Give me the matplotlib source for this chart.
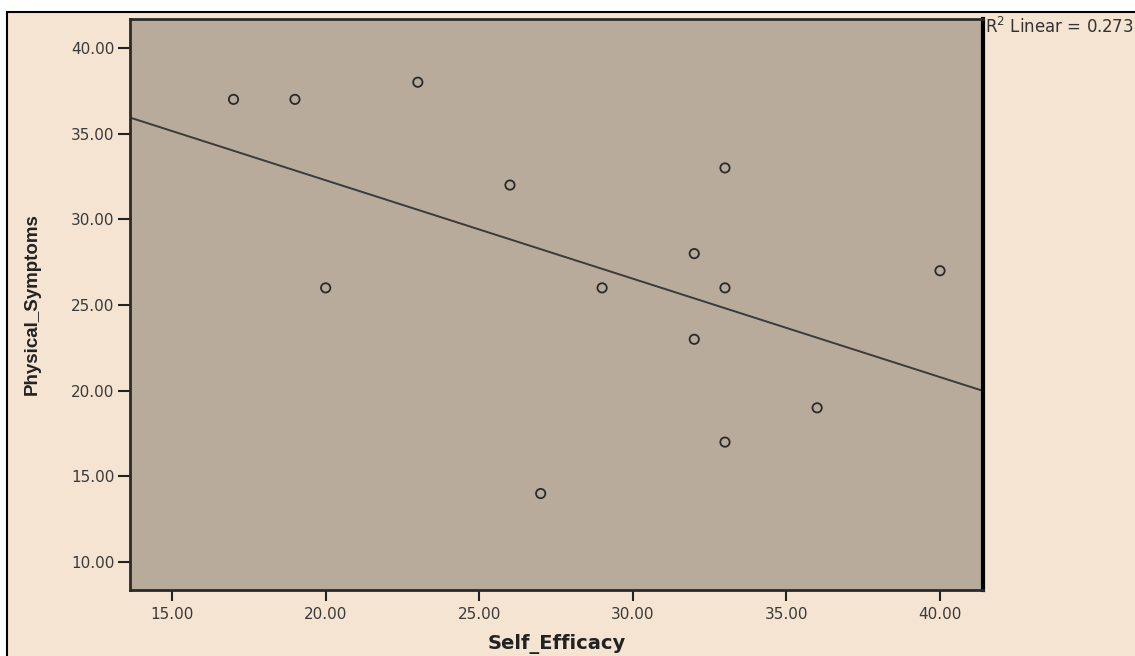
import numpy as np
import matplotlib.pyplot as plt
from matplotlib.patches import Rectangle

# datos
self_efficacy = [17, 19, 23, 20, 26, 29, 27, 32, 32, 33, 33, 33, 36, 40]
physical_symptoms = [37, 37, 38, 26, 32, 26, 14, 28, 23, 33, 26, 17, 19, 27]
xticks = [15, 20, 25, 30, 35, 40]
yticks = [10, 15, 20, 25, 30, 35, 40]
r2_text = "R$^2$ Linear = 0.273"

fondo = '#f5e4d1'
area = '#b8ab9b'

fig = plt.figure(figsize=(11.35, 6.56), dpi=100, facecolor='white')
W, H = 1135, 656
fig.patches.append(Rectangle((7 / W, -0.01), 1.02, 1 - 12 / H + 0.01, transform=fig.transFigure,
                             facecolor=fondo, edgecolor='black', linewidth=1.5, zorder=0))

ax = fig.add_axes([130 / W, 1 - 590 / H, (983 - 130) / W, (590 - 19) / H])
ax.set_zorder(2)
ax.set_facecolor(area)
ax.set_xlim(13.63, 41.4)
ax.set_ylim(8.37, 41.69)

x = np.array(self_efficacy, dtype=float)
y = np.array(physical_symptoms, dtype=float)
ax.scatter(x, y, s=45, facecolors='none', edgecolors='#2a2a2a', linewidths=1.3, zorder=3)

# recta de regresion
m, b = np.polyfit(x, y, 1)
xs = np.array(ax.get_xlim())
ax.plot(xs, m * xs + b, color='#3a3a3a', linewidth=1.4, zorder=2)

ax.set_xticks(xticks)
ax.set_yticks(yticks)
ax.set_xticklabels(['%.2f' % v for v in xticks])
ax.set_yticklabels(['%.2f' % v for v in yticks])
ax.tick_params(axis='both', direction='out', color='#222222', width=1.5, labelsize=11,
               labelcolor='#3a3a3a', labelfontfamily='DejaVu Sans')
ax.tick_params(axis='y', length=9, pad=2)
ax.tick_params(axis='x', length=8, pad=4)

for lado in ['left', 'bottom', 'top']:
    ax.spines[lado].set_linewidth(2)
    ax.spines[lado].set_color('#2a2a2a')
ax.spines['right'].set_linewidth(3)
ax.spines['right'].set_color('black')

ax.set_xlabel('Self_Efficacy', fontsize=14, fontweight='bold', family='DejaVu Sans',
              color='#222222', labelpad=9)
ax.set_ylabel('Physical_Symptoms', fontsize=13.5, fontweight='bold',
              family='Liberation Sans', color='#222222', labelpad=22)

t = fig.text(985 / W, 1 - 33 / H, r2_text, fontsize=12, family='DejaVu Sans', color='#333333',
             ha='left', va='baseline')
t.set_zorder(3)

fig.savefig('out.png', dpi=100, facecolor=fig.get_facecolor())
